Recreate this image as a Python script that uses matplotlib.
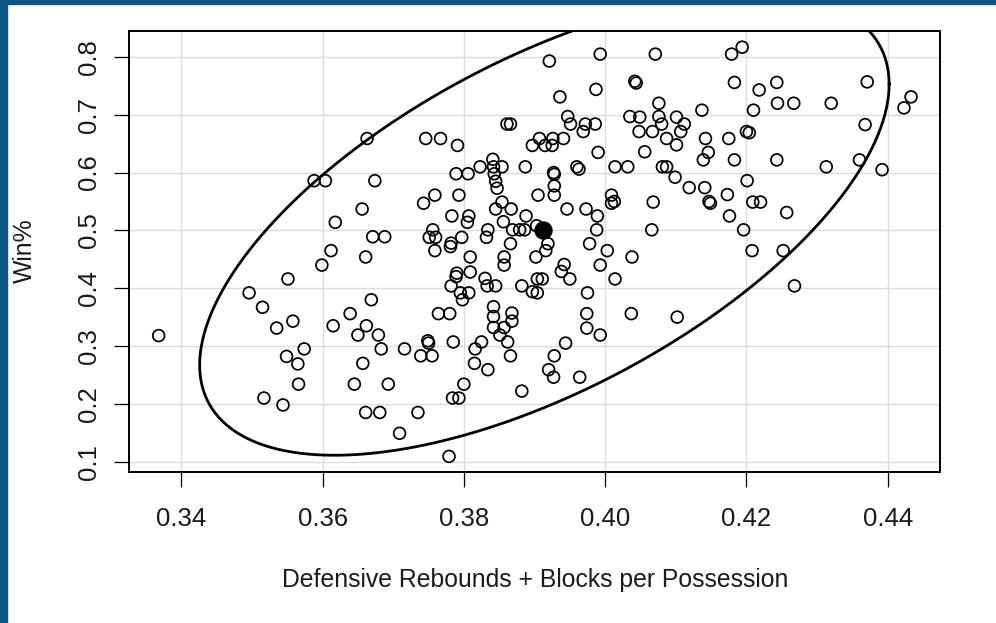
import numpy as np
import matplotlib.pyplot as plt
from matplotlib.patches import Rectangle

plt.rcParams['font.family'] = ['Liberation Sans', 'DejaVu Sans']

# Defensive rebounds + blocks per possession (x) and win% (y), one per team-season
def_reb_blk = [
    # left part
    0.3663, 0.3588, 0.3604, 0.3674, 0.3656, 0.3618, 0.3671, 0.3688, 0.3612, 0.3661,
    0.3599, 0.3551, 0.3496, 0.3515, 0.3669, 0.3639, 0.3558, 0.3535, 0.3615, 0.3662,
    0.3650, 0.3679, 0.3368, 0.3574, 0.3683, 0.3549, 0.3565, 0.3657, 0.3566, 0.3645,
    0.3693, 0.3517, 0.3544, 0.3661, 0.3681, 0.3709,
    # upper middle
    0.3921, 0.3993, 0.4071, 0.4042, 0.4044, 0.3987, 0.3936, 0.4076, 0.3947, 0.3951,
    0.3972, 0.3986, 0.3969, 0.4035, 0.4049, 0.4076, 0.4101, 0.4048, 0.4067, 0.4080,
    0.4087, 0.4101, 0.3861, 0.3866, 0.3746, 0.3767, 0.3791, 0.3907, 0.3926, 0.3941,
    0.3897, 0.3915, 0.3925, 0.3990, 0.4056, 0.3823, 0.3841, 0.3842, 0.3854, 0.3887,
    0.3960, 0.3963, 0.4014, 0.4032, 0.4081, 0.4087, 0.4099, 0.3789, 0.3806, 0.3927,
    0.3928, 0.3843, 0.3845, 0.3847, 0.3928, 0.3928, 0.3759, 0.3793, 0.3905, 0.3743,
    0.3854, 0.4009, 0.4009, 0.4013, 0.4068, 0.3845, 0.3867, 0.3946, 0.3973, 0.3783,
    0.3807, 0.3888, 0.3989, 0.3805, 0.3856, 0.3756, 0.3751, 0.3760, 0.3797, 0.3834,
    0.3832, 0.3869, 0.3879, 0.3886, 0.3903, 0.3988, 0.4066, 0.3782, 0.3781, 0.3759,
    0.3866, 0.3919, 0.3978, 0.4003, 0.4038, 0.3916,
    # lower middle
    0.3809, 0.3857, 0.3857, 0.3902, 0.3993, 0.3942, 0.3938, 0.3950, 0.4014, 0.3790,
    0.3789, 0.3809, 0.3782, 0.3795, 0.3807, 0.3798, 0.3830, 0.3833, 0.3845, 0.3882,
    0.3897, 0.3904, 0.3904, 0.3911, 0.3975, 0.3764, 0.3780, 0.3842, 0.3842, 0.3842,
    0.3851, 0.3868, 0.3868, 0.3857, 0.3862, 0.3866, 0.3974, 0.3974, 0.4037, 0.3993,
    0.3944, 0.4102, 0.3749, 0.3750, 0.3716, 0.3739, 0.3755, 0.3785, 0.3825, 0.3816,
    0.3815, 0.3834, 0.3928, 0.3920, 0.3927, 0.3964, 0.3800, 0.3784, 0.3793, 0.3882,
    0.3735, 0.3779,
    # right part
    0.4194, 0.4179, 0.4183, 0.4218, 0.4243, 0.4371, 0.4244, 0.4267, 0.4320, 0.4433,
    0.4423, 0.4137, 0.4210, 0.4112, 0.4107, 0.4142, 0.4200, 0.4204, 0.4368, 0.4175,
    0.4146, 0.4139, 0.4183, 0.4243, 0.4360, 0.4313, 0.4392, 0.4119, 0.4141, 0.4201,
    0.4147, 0.4149, 0.4173, 0.4209, 0.4220, 0.4176, 0.4257, 0.4196, 0.4208, 0.4252,
    0.4268,
]
win_pct = [
    # left part
    0.659, 0.586, 0.586, 0.586, 0.537, 0.514, 0.489, 0.489, 0.465, 0.454,
    0.440, 0.416, 0.392, 0.367, 0.380, 0.356, 0.343, 0.331, 0.335, 0.335,
    0.319, 0.319, 0.318, 0.295, 0.295, 0.282, 0.269, 0.270, 0.234, 0.234,
    0.234, 0.210, 0.198, 0.185, 0.185, 0.149,
    # upper middle
    0.793, 0.805, 0.805, 0.758, 0.755, 0.744, 0.731, 0.720, 0.697, 0.684,
    0.684, 0.684, 0.671, 0.697, 0.696, 0.697, 0.696, 0.671, 0.671, 0.684,
    0.659, 0.648, 0.684, 0.684, 0.659, 0.659, 0.647, 0.659, 0.659, 0.659,
    0.647, 0.647, 0.647, 0.635, 0.636, 0.610, 0.623, 0.610, 0.610, 0.610,
    0.610, 0.606, 0.610, 0.610, 0.610, 0.610, 0.592, 0.598, 0.598, 0.600,
    0.597, 0.598, 0.585, 0.573, 0.577, 0.561, 0.561, 0.561, 0.561, 0.547,
    0.549, 0.561, 0.547, 0.550, 0.549, 0.537, 0.537, 0.537, 0.537, 0.525,
    0.525, 0.525, 0.525, 0.514, 0.515, 0.501, 0.488, 0.488, 0.488, 0.501,
    0.488, 0.501, 0.501, 0.501, 0.508, 0.501, 0.501, 0.478, 0.472, 0.465,
    0.477, 0.477, 0.477, 0.465, 0.454, 0.465,
    # lower middle
    0.454, 0.454, 0.440, 0.454, 0.440, 0.441, 0.429, 0.416, 0.416, 0.426,
    0.420, 0.428, 0.404, 0.392, 0.392, 0.380, 0.417, 0.404, 0.404, 0.404,
    0.394, 0.392, 0.416, 0.416, 0.392, 0.356, 0.356, 0.368, 0.351, 0.332,
    0.319, 0.357, 0.343, 0.332, 0.307, 0.283, 0.356, 0.331, 0.356, 0.319,
    0.305, 0.350, 0.309, 0.305, 0.295, 0.283, 0.283, 0.307, 0.307, 0.295,
    0.270, 0.259, 0.283, 0.259, 0.246, 0.246, 0.234, 0.210, 0.210, 0.222,
    0.185, 0.109,
    # right part
    0.817, 0.805, 0.756, 0.743, 0.756, 0.757, 0.720, 0.720, 0.720, 0.731,
    0.712, 0.708, 0.708, 0.684, 0.671, 0.659, 0.671, 0.669, 0.683, 0.659,
    0.635, 0.622, 0.622, 0.622, 0.622, 0.610, 0.605, 0.574, 0.574, 0.586,
    0.550, 0.547, 0.562, 0.549, 0.549, 0.525, 0.531, 0.501, 0.465, 0.465,
    0.404,
]

# mean point
mean_x = 0.3912
mean_y = 0.500

# data ellipse: x = cx + a*cos(t), y = cy + b*cos(t) + c*sin(t)
ell_cx, ell_cy = 0.3914, 0.51
ell_a = 0.0488
ell_b = 0.243
ell_c = 0.3165

x_ticks = [0.34, 0.36, 0.38, 0.40, 0.42, 0.44]
y_ticks = [0.1, 0.2, 0.3, 0.4, 0.5, 0.6, 0.7, 0.8]

fig = plt.figure(figsize=(9.96, 6.23), dpi=100)

# blue frame on the left and top
fig.patches.append(Rectangle((0, 0), 7 / 996, 1, transform=fig.transFigure,
                             color='#0c5486', zorder=0))
fig.patches.append(Rectangle((0, 1 - 4 / 623), 1, 4 / 623, transform=fig.transFigure,
                             color='#0c5486', zorder=0))

ax = fig.add_axes([129 / 996, 1 - 472 / 623, (940 - 129) / 996, (472 - 31) / 623])

ax.grid(True, color='#dcdcdc', linewidth=1.0)
ax.set_axisbelow(True)

ax.scatter(def_reb_blk, win_pct, s=72, facecolors='none', edgecolors='black',
           linewidths=1.25, zorder=3)
ax.scatter([mean_x], [mean_y], s=150, color='black', zorder=4)

t = np.linspace(0, 2 * np.pi, 400)
ax.plot(ell_cx + ell_a * np.cos(t),
        ell_cy + ell_b * np.cos(t) + ell_c * np.sin(t),
        color='black', linewidth=2.0, zorder=3)

ax.set_xlim(0.3326, 0.4474)
ax.set_ylim(0.082, 0.845)
ax.set_xticks(x_ticks)
ax.set_xticklabels(['%.2f' % v for v in x_ticks])
ax.set_yticks(y_ticks)
ax.set_yticklabels(['%.1f' % v for v in y_ticks])

for side in ax.spines.values():
    side.set_linewidth(1.4)
    side.set_color('black')

ax.tick_params(axis='both', direction='out', length=11, width=0.9,
               labelsize=18.5, colors='black')
ax.tick_params(axis='x', pad=14)
ax.tick_params(axis='y', pad=9)
for lbl in ax.get_yticklabels():
    lbl.set_rotation(90)
    lbl.set_va('center')
for lbl in ax.get_xticklabels() + ax.get_yticklabels():
    lbl.set_color('#1a1a1a')

fig.text(535 / 996, 1 - 587 / 623, 'Defensive Rebounds + Blocks per Possession',
         ha='center', va='baseline', fontsize=17.8, color='#1a1a1a')
fig.text(25 / 996, 1 - 251 / 623, 'Win%', rotation=90,
         ha='center', va='center', fontsize=17.8, color='#1a1a1a')

fig.savefig('out.png', dpi=100)
